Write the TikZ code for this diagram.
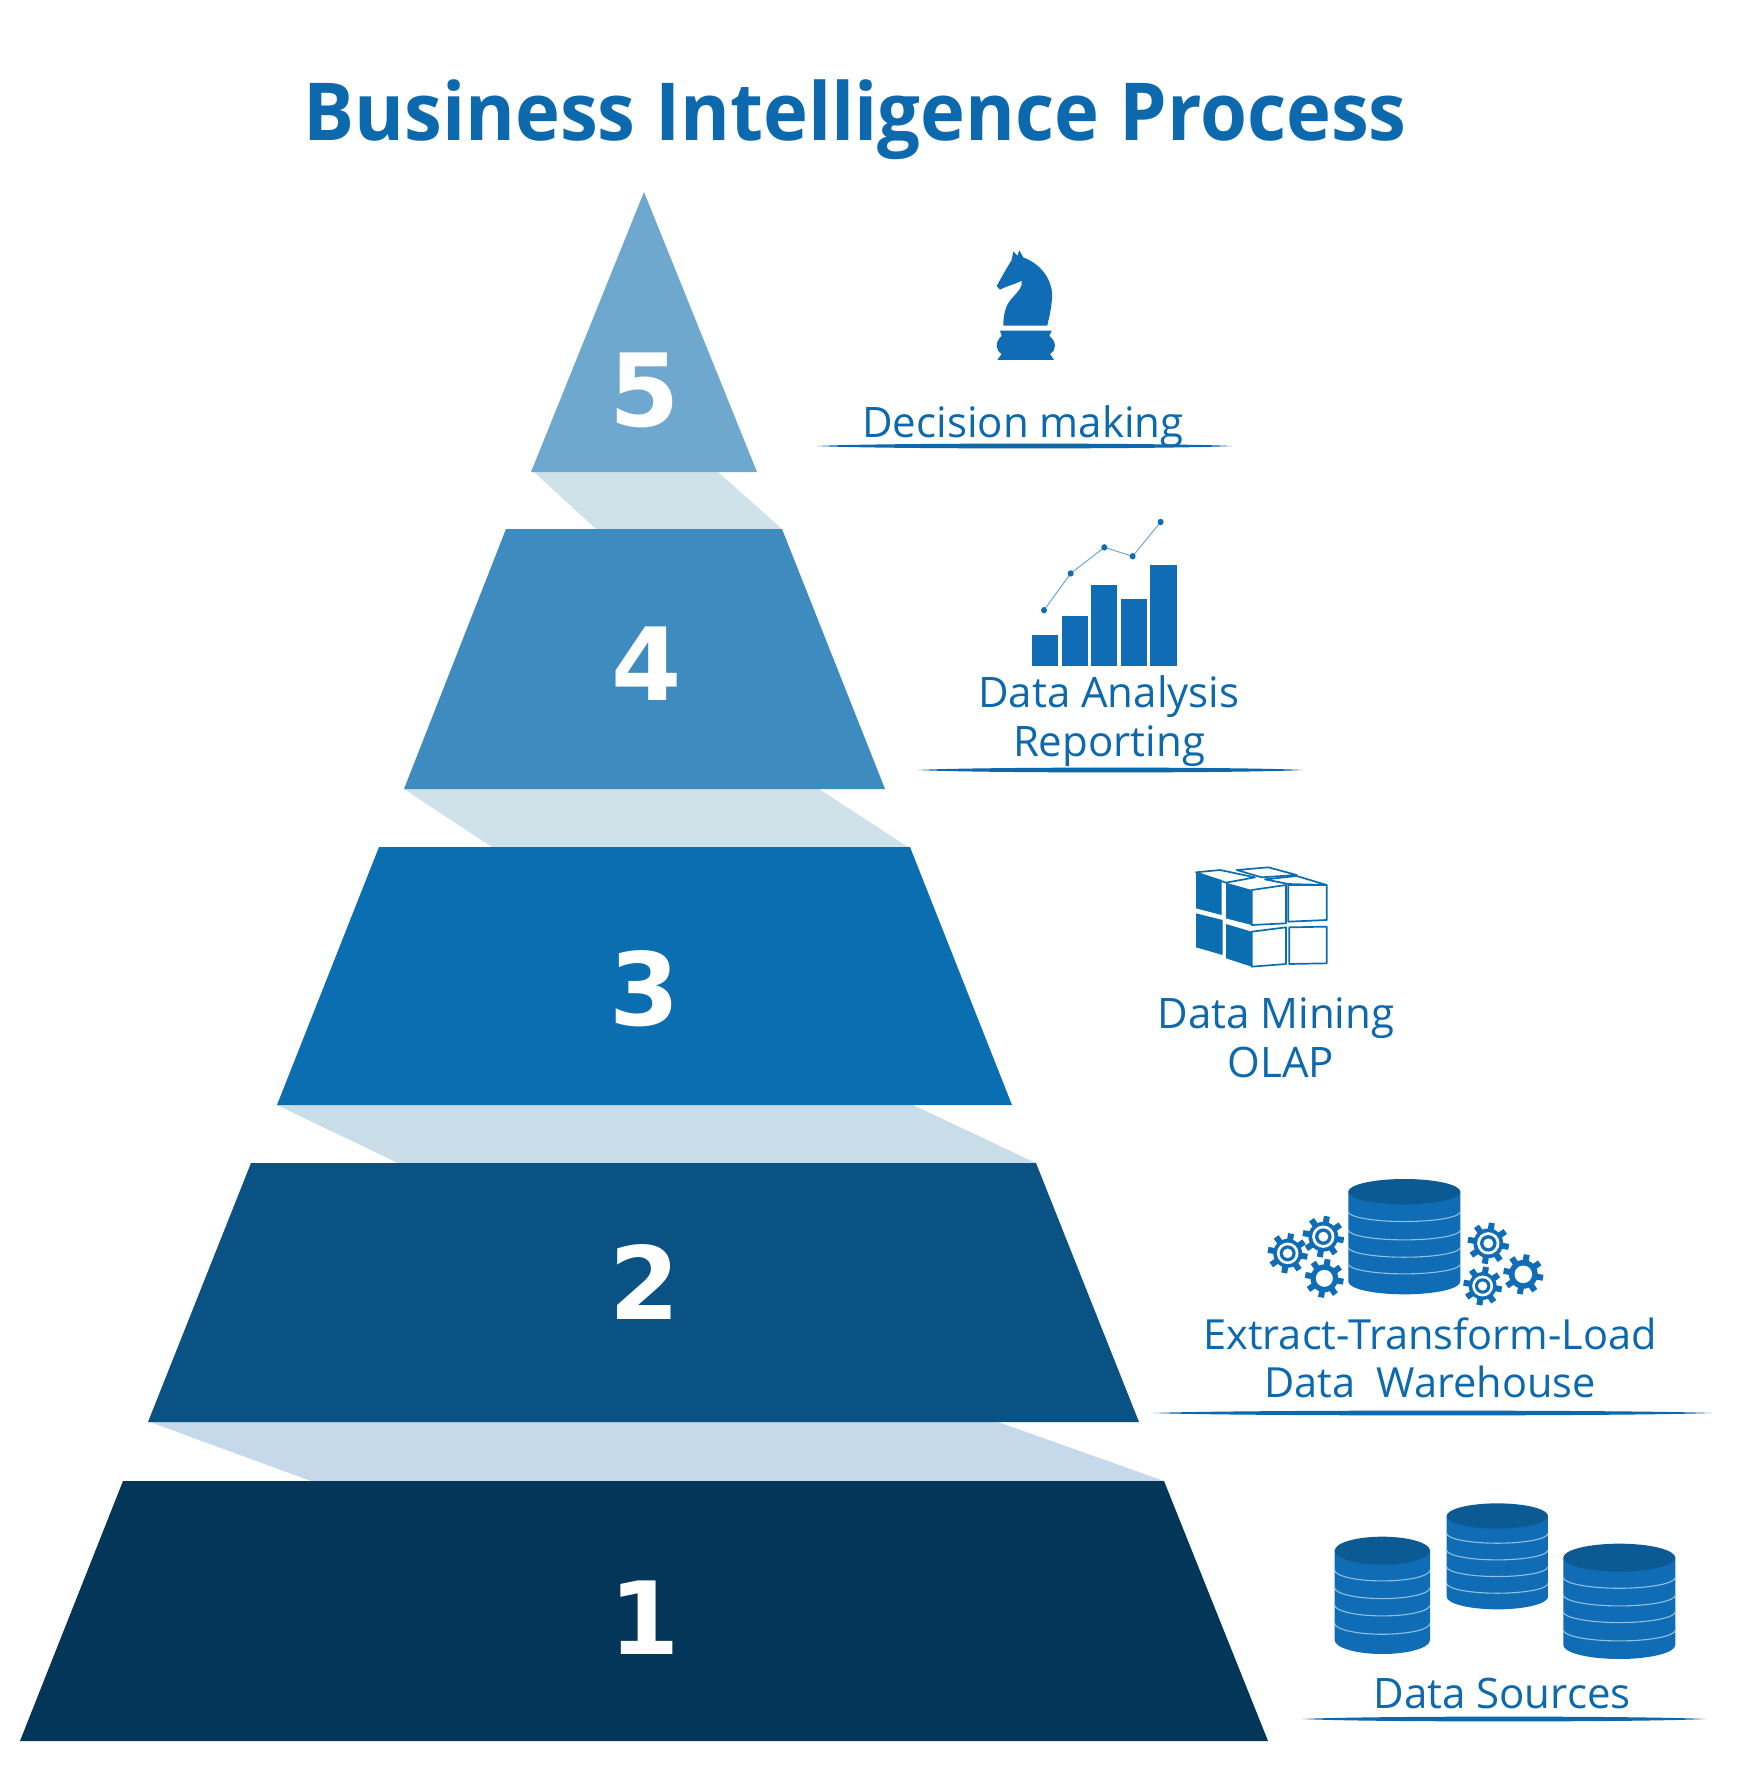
\documentclass[tikz,border=0pt]{standalone}
\usepackage{fontspec}
\setmainfont{Open Sans}
\newfontfamily\numfont{DejaVu Sans}[BoldFont={DejaVu Sans Bold}]
\usetikzlibrary{calc}
\definecolor{tfive}{HTML}{6FA8CF}
\definecolor{tfour}{HTML}{3D8BBF}
\definecolor{tthree}{HTML}{0B6EB1}
\definecolor{ttwo}{HTML}{0B5284}
\definecolor{tone}{HTML}{033659}
\definecolor{bandA}{HTML}{CFE2EA}
\definecolor{bandB}{HTML}{C9DDE9}
\definecolor{bandC}{HTML}{C5D9EA}
\definecolor{ink}{HTML}{0C69AD}
\definecolor{dbbody}{HTML}{0F6CB5}
\definecolor{dbtop}{HTML}{0B5A94}
\definecolor{dbline}{HTML}{8FBFE0}
\tikzset{
  num/.style={text=white,font=\numfont\bfseries\fontsize{101}{110}\selectfont,inner sep=0pt},
  lab/.style={text=ink,font=\fontsize{42}{49}\selectfont,align=center,inner sep=0pt},
  ttl/.style={text=ink,font=\bfseries\fontsize{80}{90}\selectfont,inner sep=0pt,xscale=0.95},
  cubeface/.style={draw=tthree,line width=1.7pt,fill=white,line join=round},
  cubedark/.style={fill=tthree}
}
% swoosh underline
\newcommand{\swoosh}[3]{%
  \fill[ink] (#1,#3) .. controls ($(#1,#3)!0.15!(#2,#3)+(0,-3.2)$) and ($(#1,#3)!0.85!(#2,#3)+(0,-3.2)$) .. (#2,#3)
   .. controls ($(#1,#3)!0.85!(#2,#3)+(0,3.2)$) and ($(#1,#3)!0.15!(#2,#3)+(0,3.2)$) .. cycle;}
% database: cx, top centre, rx, ry, bottom centre, four line heights
\newcommand{\dbcyl}[9]{%
  \fill[dbbody] (#1-#3,#2) -- (#1-#3,#5) arc[start angle=180,end angle=0,x radius=#3,y radius=#4] -- (#1+#3,#2) -- cycle;
  \foreach \ly in {#6,#7,#8,#9}{
    \draw[dbline,line width=1.1pt] (#1-#3,\ly) arc[start angle=180,end angle=0,x radius=#3,y radius=#4*0.78];}
  \fill[dbtop] (#1,#2) ellipse[x radius=#3,y radius=#4];}
% gears
\newcommand{\gearteeth}[3]{%
  \foreach \a in {0,45,...,315}{
    \draw[dbbody,line width=6pt] ($(#1,#2)+(\a+10:#3*0.6)$) -- ($(#1,#2)+(\a+10:#3)$);}
  \fill[dbbody] (#1,#2) circle[radius=#3*0.72];}
\newcommand{\gearsimple}[3]{\gearteeth{#1}{#2}{#3}\fill[white] (#1,#2) circle[radius=#3*0.44];}
\newcommand{\geardouble}[3]{\gearteeth{#1}{#2}{#3}
  \fill[white] (#1,#2) circle[radius=#3*0.54];
  \fill[dbbody] (#1,#2) circle[radius=#3*0.4];
  \fill[white] (#1,#2) circle[radius=#3*0.24];}
\begin{document}
\begin{tikzpicture}[x=1pt,y=-1pt]
\useasboundingbox (0,0) rectangle (1744,1772);
\fill[white] (0,0) rectangle (1744,1772);

\node[ttl] (title) at (855,120) {Business Intelligence Process};

% shadow bands
\fill[bandA] (534,472) -- (718,472) -- (782,529) -- (596,529) -- cycle;
\fill[bandA] (404,789) -- (819,789) -- (908,847) -- (492,847) -- cycle;
\fill[bandB] (277,1105) -- (913,1105) -- (1036,1163) -- (398,1163) -- cycle;
\fill[bandC] (150,1422) -- (998,1422) -- (1164,1481) -- (311,1481) -- cycle;

% tiers
\fill[tfive] (644,192) -- (757,472) -- (531,472) -- cycle;
\fill[tfour] (506,529) -- (782,529) -- (885,789) -- (404,789) -- cycle;
\fill[tthree] (379,847) -- (910,847) -- (1012,1105) -- (277,1105) -- cycle;
\fill[ttwo] (251,1163) -- (1036,1163) -- (1139,1422) -- (148,1422) -- cycle;
\fill[tone] (123,1481) -- (1164,1481) -- (1268,1741) -- (20,1741) -- cycle;

\node[num] (n5) at (645,390) {5};
\node[num] (n4) at (647,664) {4};
\node[num] (n3) at (645,989) {3};
\node[num] (n2) at (645,1282) {2};
\node[num] (n1) at (645,1618) {1};

% labels
\node[lab] (l5) at (1023,427) {Decision making};
\node[lab] (l4) at (1109,721) {Data Analysis\\Reporting};
\node[lab] (l3a) at (1276,1018) {Data Mining};
\node[lab] (l3b) at (1281,1062) {OLAP};
\node[lab,font=\fontsize{41.5}{48}\selectfont] (l2) at (1430,1358) {Extract-Transform-Load\\Data\ \ Warehouse};
\node[lab] (l1) at (1502,1693) {Data Sources};

\swoosh{817}{1232}{446}
\swoosh{918}{1303}{770}
\swoosh{1153}{1712}{1413}
\swoosh{1303}{1705}{1719}

% knight and chart
\begin{scope}[shift={(940,220)},x=0.3333pt,y=-0.357pt]
\fill[dbbody] (215,112) -- (220,88) -- (232,100) -- (238,85) -- (250,105)
  .. controls (310,125) and (345,180) .. (335,230)
  .. controls (332,260) and (325,280) .. (322,296) -- (190,296)
  .. controls (190,270) and (195,240) .. (215,220)
  .. controls (235,200) and (250,185) .. (245,170)
  .. controls (225,180) and (200,185) .. (180,195) -- (170,185)
  .. controls (185,160) and (200,135) .. (215,112) -- cycle;
\fill[dbbody] (180,310) -- (335,310) -- (328,325)
  .. controls (350,340) and (350,365) .. (330,375) -- (342,392) -- (172,392) -- (185,375)
  .. controls (165,365) and (165,340) .. (185,325) -- cycle;
\foreach \xa/\xb/\yt in {275/355/1162,365/443/1110,452/531/1022,542/620/1062,630/710/965}{
  \fill[dbbody] (\xa,\yt) rectangle (\xb,1248);}
\draw[tfive,line width=1pt] (312,1093) -- (392,990) -- (493,917) -- (578,942) -- (662,846);
\foreach \px/\py in {312/1093,392/990,493/917,578/942,662/846}{
  \fill[dbbody] (\px,\py) circle[radius=9];}
\end{scope}

% cubes
\begin{scope}[shift={(1140,840)},x=0.3333pt,y=-0.3333pt]
\draw[cubeface] (168,97) -- (240,90) -- (345,112) -- (258,128) -- cycle;
\draw[cubeface] (290,90) -- (385,82) -- (470,105) -- (365,112) -- cycle;
\draw[cubeface] (375,118) -- (470,108) -- (560,135) -- (445,132) -- cycle;
\fill[cubedark] (168,97) -- (245,120) -- (245,225) -- (168,205) -- cycle;
\fill[cubedark] (258,128) -- (335,150) -- (335,255) -- (258,235) -- cycle;
\draw[cubeface] (335,150) -- (438,135) -- (438,250) -- (335,255) -- cycle;
\draw[cubeface] (445,135) -- (560,135) -- (560,240) -- (445,245) -- cycle;
\fill[cubedark] (168,220) -- (248,240) -- (248,345) -- (168,322) -- cycle;
\fill[cubedark] (258,252) -- (335,275) -- (335,380) -- (258,355) -- cycle;
\draw[cubeface] (335,275) -- (438,262) -- (438,372) -- (335,380) -- cycle;
\draw[cubeface] (448,262) -- (560,260) -- (560,370) -- (448,372) -- cycle;
\end{scope}

% ETL database and gears
\begin{scope}[shift={(1240,1160)},x=0.3333pt,y=-0.3333pt]
\dbcyl{493}{95}{168}{38}{365}{155}{210}{262}{312}
\geardouble{143}{280}{60}
\geardouble{250}{230}{62}
\gearsimple{253}{355}{58}
\geardouble{745}{250}{62}
\geardouble{728}{378}{58}
\gearsimple{850}{343}{60}
\end{scope}

% data sources
\begin{scope}[shift={(1300,1490)},x=0.3333pt,y=-0.3333pt]
\dbcyl{247}{182}{143}{42}{450}{240}{293}{345}{400}
\dbcyl{592}{78}{152}{38}{320}{130}{180}{230}{280}
\dbcyl{958}{203}{168}{42}{465}{262}{315}{365}{420}
\end{scope}
\end{tikzpicture}
\end{document}
